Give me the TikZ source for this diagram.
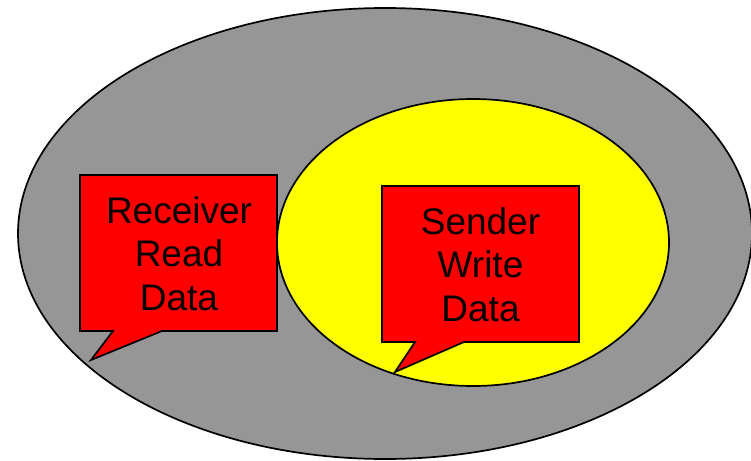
\documentclass[tikz,border=0pt]{standalone}
\usepackage{fontspec}
\setmainfont{Liberation Sans}
\definecolor{shellgray}{RGB}{150,150,150}
\definecolor{coreyellow}{RGB}{255,255,0}
\definecolor{bubblered}{RGB}{255,0,0}
\begin{document}
\begin{tikzpicture}[x=1pt,y=-1pt,
  region/.style={draw=black,line width=1.7pt},
  bubble/.style={draw=black,fill=bubblered,line width=1.7pt,line join=miter},
  label/.style={inner sep=0pt,align=center,font=\fontsize{37}{43.5}\selectfont}]
  \useasboundingbox (0,0) rectangle (751,460);
  % outer and inner regions
  \path[region,fill=shellgray] (385,233.5) ellipse [x radius=367,y radius=225.5];
  \path[region,fill=coreyellow] (473,242.5) ellipse [x radius=196,y radius=143.5];
  % receiver speech bubble
  \path[bubble] (80,175) -- (277,175) -- (277,331) -- (162,331)
    -- (91,360) -- (113,331) -- (80,331) -- cycle;
  \node[label] (receiver) at (179,253.5) {Receiver\\Read\\Data};
  % sender speech bubble
  \path[bubble] (382,186) -- (579,186) -- (579,342) -- (464,342)
    -- (395,372) -- (415,342) -- (382,342) -- cycle;
  \node[label] (sender) at (480.5,264.5) {Sender\\Write\\Data};
\end{tikzpicture}
\end{document}
